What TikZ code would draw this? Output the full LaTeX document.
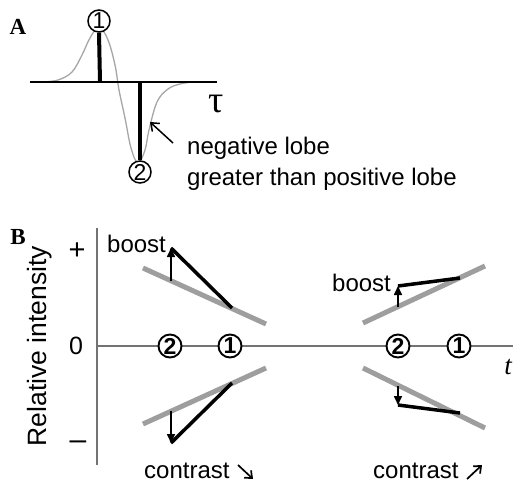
\documentclass[tikz,border=0pt]{standalone}
\usepackage{fontspec}
\setmainfont{Liberation Sans}
\newfontfamily\serifface{Liberation Serif}
\usetikzlibrary{arrows.meta}
\begin{document}
\begin{tikzpicture}[x=1pt,y=-1pt,
  txt/.style={font=\fontsize{24}{28}\selectfont, inner sep=0pt},
  panellab/.style={font=\serifface\bfseries\fontsize{23}{23}\selectfont, inner sep=0pt},
  numA/.style={circle, draw, line width=1.5pt, fill=white, minimum size=22pt, inner sep=0pt, font=\fontsize{23}{23}\selectfont},
  numB/.style={circle, draw, line width=1.9pt, fill=white, minimum size=23pt, inner sep=0pt, font=\bfseries\fontsize{23}{23}\selectfont},
  axB/.style={draw=black!55, line width=1.3pt},
  greyline/.style={draw=black!38, line width=5pt},
  blackline/.style={draw=black, line width=3.5pt},
  boostarrow/.style={draw=black, line width=1.6pt, -{Triangle[length=9pt,width=8pt]}},
  barbarrow/.style={draw=black, line width=1.5pt, -{Straight Barb[length=7pt,width=11pt]}},
  smallarrow/.style={draw=black, line width=1.7pt, -{Straight Barb[length=6pt,width=10pt]}}
]
\useasboundingbox (0,0) rectangle (514,484);
% ---------- Panel A ----------
\node[panellab] (labA) at (18,27) {A};
\coordinate (axAl) at (30,82);
\coordinate (axAr) at (217,82);
\draw[black!35, line width=1.3pt] plot[smooth, tension=0.6] coordinates {(42,82) (58,80) (72,72) (82,55) (90,38) (99,27) (108,40) (115,65) (119,90) (125,118) (131,148) (138,163) (145,150) (149,130) (157,102) (168,89) (180,84) (192,82)};
\draw[black, line width=2pt] (axAl) -- (axAr);
\node[numA] (c1A) at (99,21) {1};
\node[numA] (c2A) at (140,172) {2};
\coordinate (b1base) at (100,82);
\coordinate (b2base) at (140,82);
\draw[black, line width=4pt] (b1base) -- (c1A.south);
\draw[black, line width=4pt] (b2base) -- (c2A.north);
\node[font=\serifface\fontsize{38}{38}\selectfont, inner sep=0pt] (tau) at (216,104) {τ};
\coordinate (arrAs) at (173,143);
\coordinate (arrAe) at (150,122);
\draw[barbarrow] (arrAs) -- (arrAe);
\node[txt, anchor=base west] (neg1) at (187,155) {negative lobe};
\node[txt, anchor=base west] (neg2) at (187,185) {greater than positive lobe};
% ---------- Panel B ----------
\node[panellab] (labB) at (18,237) {B};
\coordinate (vt) at (97,228);
\coordinate (vb) at (97,465);
\coordinate (hl) at (97,346);
\coordinate (hr) at (513,346);
\draw[axB] (vt) -- (vb);
\draw[axB] (hl) -- (hr);
\node[font=\fontsize{26.5}{30}\selectfont, inner sep=0pt, rotate=90] (ylab) at (40,346) {Relative intensity};
\node[font=\fontsize{29}{29}\selectfont, inner sep=0pt] (plus) at (77,251) {+};
\node[font=\fontsize{25}{25}\selectfont, inner sep=0pt] (zero) at (76,346) {0};
\node[font=\fontsize{30}{30}\selectfont, inner sep=0pt] (minus) at (78,445) {–};
\node[font=\serifface\itshape\fontsize{27}{27}\selectfont, inner sep=0pt] (tlab) at (508,367) {t};
% left top
\coordinate (g1a) at (143,268); \coordinate (g1b) at (266,324);
\coordinate (k1a) at (171,248); \coordinate (k1b) at (232,308);
\coordinate (a1s) at (171,281);
\draw[greyline] (g1a) -- (g1b);
\draw[blackline] (k1a) -- (k1b);
\draw[boostarrow] (a1s) -- (k1a);
% left bottom
\coordinate (g2a) at (143,424); \coordinate (g2b) at (266,368);
\coordinate (k2a) at (171,443); \coordinate (k2b) at (232,383);
\coordinate (a2s) at (171,411);
\draw[greyline] (g2a) -- (g2b);
\draw[blackline] (k2a) -- (k2b);
\draw[boostarrow] (a2s) -- (k2a);
% right top
\coordinate (g3a) at (363,323); \coordinate (g3b) at (485,266);
\coordinate (k3a) at (398,286); \coordinate (k3b) at (460,278);
\coordinate (a3s) at (398,307);
\draw[greyline] (g3a) -- (g3b);
\draw[blackline] (k3a) -- (k3b);
\draw[boostarrow] (a3s) -- (k3a);
% right bottom
\coordinate (g4a) at (363,368); \coordinate (g4b) at (485,428);
\coordinate (k4a) at (398,405); \coordinate (k4b) at (460,413);
\coordinate (a4s) at (398,386);
\draw[greyline] (g4a) -- (g4b);
\draw[blackline] (k4a) -- (k4b);
\draw[boostarrow] (a4s) -- (k4a);
% numbered circles on axis
\node[numB] (c2L) at (170,346) {2};
\node[numB] (c1L) at (230,346) {1};
\node[numB] (c2R) at (398,346) {2};
\node[numB] (c1R) at (459,346) {1};
% labels
\node[txt, anchor=base west] (boostL) at (107,252) {boost};
\node[txt, anchor=base west] (boostR) at (332,291) {boost};
\node[txt, anchor=base west] (contrL) at (144,478) {contrast};
\node[txt, anchor=base west] (contrR) at (373,478) {contrast};
\coordinate (sa1s) at (238,465); \coordinate (sa1e) at (253,479);
\coordinate (sa2s) at (467,479); \coordinate (sa2e) at (482,465);
\draw[smallarrow] (sa1s) -- (sa1e);
\draw[smallarrow] (sa2s) -- (sa2e);
\end{tikzpicture}
\end{document}
